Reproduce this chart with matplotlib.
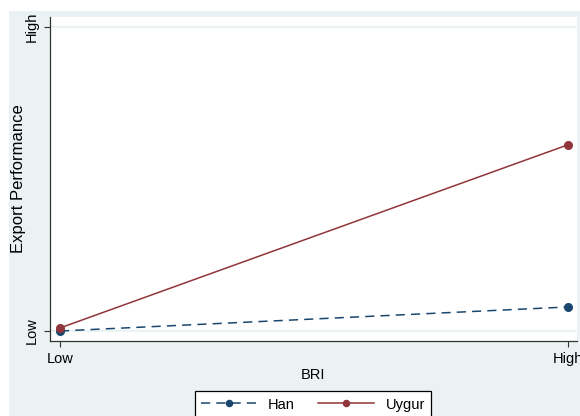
import matplotlib.pyplot as plt
from matplotlib.patches import Rectangle

plt.rcParams['font.family'] = ['Liberation Sans', 'DejaVu Sans']

bri_levels = [0, 1]
bri_labels = ["Low", "High"]
perf_ticks = [0, 1]
perf_labels = ["Low", "High"]
han = [0.0, 0.079]
uygur = [0.01, 0.612]

navy = "#1a476f"
maroon = "#90353b"
bg = "#eaf2f3"
fs = 10.5

W, H = 580, 416
fig = plt.figure(figsize=(W / 100, H / 100), dpi=100, facecolor="white")
fig.patches.append(Rectangle((9 / W, 0), 1, 1 - 11 / H, transform=fig.transFigure,
                             facecolor=bg, edgecolor="none", zorder=-10))

ax = fig.add_axes([50 / W, (H - 341) / H, (577 - 50) / W, (341 - 17) / H])
ax.set_facecolor("white")

ax.plot(bri_levels, han, color=navy, lw=1.1, ls=(0, (6, 4)), marker="o", ms=5.5,
        label="Han", zorder=3)
ax.plot(bri_levels, uygur, color=maroon, lw=1.1, marker="o", ms=5.5,
        label="Uygur", zorder=3)

ax.set_xlim(-10 / 507.7, 1 + 9.5 / 507.7)
ax.set_ylim(-10 / 304, 1 + 10 / 304)
ax.set_xticks(bri_levels)
ax.set_xticklabels(bri_labels, fontsize=fs)
ax.set_yticks(perf_ticks)
ax.set_yticklabels(perf_labels, fontsize=fs, rotation=90, va="center")
ax.yaxis.grid(True, color=bg, lw=1.5)
ax.set_axisbelow(True)
ax.tick_params(axis="both", length=4.3, width=0.8, color="#333333", pad=3.8)

for s in ["top", "right"]:
    ax.spines[s].set_visible(False)
for s in ["left", "bottom"]:
    ax.spines[s].set_color("#333333")
    ax.spines[s].set_linewidth(0.9)

ax.set_xlabel("BRI", fontsize=fs, labelpad=1)
ax.set_ylabel("Export Performance", fontsize=12, labelpad=-1)

leg = fig.legend(loc="upper center", bbox_to_anchor=(313 / W, 1 - 391 / H),
                 ncol=2, fontsize=fs, handlelength=3.8, columnspacing=1.6,
                 fancybox=False, edgecolor="black", framealpha=1,
                 borderpad=0.45, borderaxespad=0, handletextpad=0.8,
                 markerscale=0.8)
leg.get_frame().set_linewidth(0.9)

fig.savefig("out.png", dpi=100, facecolor=fig.get_facecolor())
